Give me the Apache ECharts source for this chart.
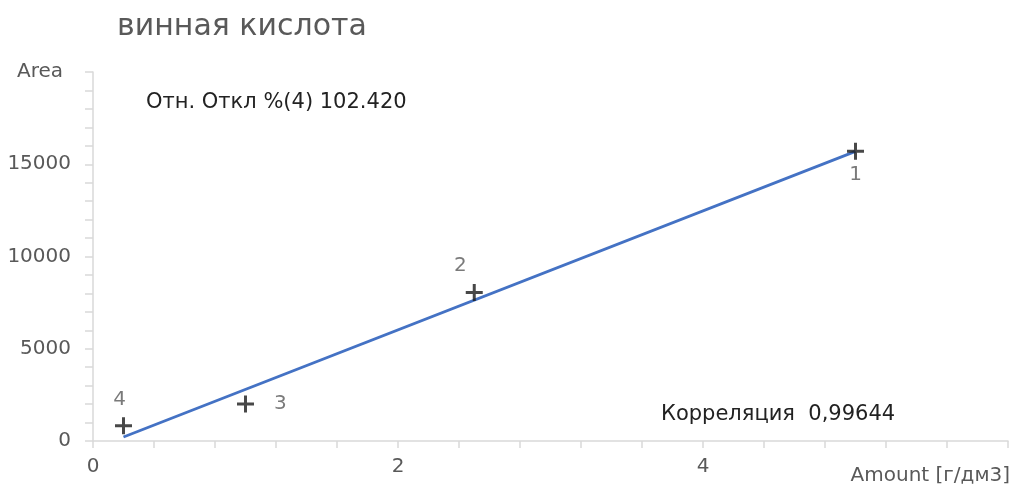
<!DOCTYPE html>
<html>
<head>
<meta charset="utf-8">
<script src="https://cdn.jsdelivr.net/npm/echarts@6/dist/echarts.min.js"></script>
<style>
html,body{margin:0;padding:0;background:#fff;}
#c{width:1013px;height:486px;}
</style>
</head>
<body>
<div id="c"></div>
<script>
var chartTitle = 'винная кислота';
var xName = 'Amount [г/дм3]';
var yName = 'Area';
var pointLabels = ['1', '2', '3', '4'];
var pointX = [5, 2.5, 1, 0.2];
var pointY = [15700, 8050, 2010, 820];
var fitX = [0.2, 5];
var fitY = [220, 15700];
var deviationText = 'Отн. Откл %(4) 102.420';
var correlationText = 'Корреляция  0,99644';

var labelStyles = [
  {position: 'bottom', distance: 5},
  {position: 'top', distance: 8, offset: [-14, 0]},
  {position: 'right', distance: 20},
  {position: 'top', distance: 8, offset: [-4, 0]}
];

var FONT = 'DejaVu Sans';
var gray = '#595959';

var scatterData = pointX.map(function (x, i) {
  return {
    value: [x, pointY[i]],
    name: pointLabels[i],
    label: labelStyles[i]
  };
});
var fitData = fitX.map(function (x, i) { return [x, fitY[i]]; });

var chart = echarts.init(document.getElementById('c'));
chart.setOption({
  animation: false,
  backgroundColor: '#fff',
  title: {
    text: chartTitle,
    left: 112, top: 7,
    textStyle: {fontFamily: FONT, fontSize: 30, fontWeight: 'normal', color: gray}
  },
  grid: {left: 93, right: 5, top: 72, bottom: 45, outerBoundsMode: 'none', containLabel: false},
  xAxis: {
    type: 'value', min: 0, max: 6, interval: 2,
    name: xName, nameLocation: 'end', nameGap: 0,
    nameTextStyle: {fontFamily: FONT, fontSize: 20, color: gray, align: 'right', verticalAlign: 'top', padding: [25, -2, 0, 0]},
    axisLine: {show: true, lineStyle: {color: '#d9d9d9', width: 1.5}},
    axisTick: {show: true, inside: false, length: 7, lineStyle: {color: '#d9d9d9', width: 1.5}},
    minorTick: {show: true, splitNumber: 5, length: 7, lineStyle: {color: '#d9d9d9', width: 1.5}},
    splitLine: {show: false},
    axisLabel: {fontFamily: FONT, fontSize: 20, color: gray, margin: 16, showMaxLabel: false,
      formatter: function (v) { return String(v); }}
  },
  yAxis: {
    type: 'value', min: 0, max: 20000, interval: 5000,
    name: yName, nameLocation: 'end', nameGap: 0,
    nameTextStyle: {fontFamily: FONT, fontSize: 20, color: gray, align: 'right', verticalAlign: 'middle', padding: [0, 30, 0, 0]},
    axisLine: {show: true, lineStyle: {color: '#d9d9d9', width: 1.5}},
    axisTick: {show: true, inside: false, length: 8, lineStyle: {color: '#d9d9d9', width: 1.5}},
    minorTick: {show: true, splitNumber: 5, length: 8, lineStyle: {color: '#d9d9d9', width: 1.5}},
    splitLine: {show: false},
    axisLabel: {fontFamily: FONT, fontSize: 20, color: gray, margin: 22, showMaxLabel: false,
      formatter: function (v) { return String(v); }}
  },
  graphic: [
    {type: 'text', left: 146, top: 92, style: {text: deviationText, font: '21px "DejaVu Sans"', fill: '#222'}},
    {type: 'text', left: 661, top: 404, style: {text: correlationText, font: '21px "DejaVu Sans"', fill: '#222'}}
  ],
  series: [
    {
      type: 'line',
      data: fitData,
      symbol: 'none',
      lineStyle: {color: '#4472C4', width: 2.8},
      z: 2
    },
    {
      type: 'scatter',
      data: scatterData,
      symbol: 'path://M7,0H10V7H17V10H10V17H7V10H0V7H7Z',
      symbolSize: 17,
      itemStyle: {color: '#1a1a1a'},
      label: {show: true, formatter: '{b}', fontFamily: FONT, fontSize: 20, color: gray},
      z: 3
    }
  ]
});
</script>
</body>
</html>
